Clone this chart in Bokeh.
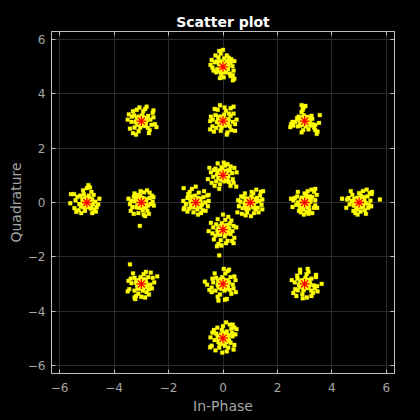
from bokeh.plotting import figure
from bokeh.models import Range1d, LinearAxis, FixedTicker, ColumnDataSource, CustomJSTickFormatter, GlobalInlineStyleSheet
from bokeh.embed import file_html
from bokeh.resources import INLINE

# Ideal constellation points (red asterisks)
ref_i = [0, 0, 1, -1, 0, 0, 3, -3, 3, -3, 3, -3, 0, 0, 5, -5]
ref_q = [1, -1, 0, 0, 3, -3, 0, 0, 3, 3, -3, -3, 5, -5, 0, 0]

# Received samples: offsets from each ideal point,
# in units of 1/72
NOISE_UNIT = 72.0
off_0_1 = [(0,0),(5,-6),(-7,6),(10,10),(-12,-8),(14,-2),(-16,2),(-2,16),(4,-16),(18,14),(-20,18),(16,-18),(-18,-16),(24,6),(-26,-4),(6,26),(-8,-24),(26,-10),(-24,14),(12,30),(-14,32),(30,20),(-30,-20),(2,34),(20,-28),(-32,8),(-40,-10),(35,-30),(-10,-36),(8,8),(-6,-6),(12,-10),(-12,10),(2,-8),(-4,22),(20,24),(-22,-28),(28,-20),(36,8),(-36,20),
           (3,12),(-11,-3),(9,-13),(-5,-12),(13,13),(-13,7),(0,-4),(7,1),(-3,4),(11,-6),(-9,13),(1,9)]
off_0_m1 = [(0,0),(-6,5),(8,-7),(-10,-12),(12,9),(-15,-2),(16,3),(-3,17),(5,-18),(-18,14),(20,-12),(-20,-16),(18,16),(25,-4),(-26,6),(6,26),(-6,-28),(28,10),(-28,-10),(12,-30),(-14,28),(30,-22),(-32,18),(14,34),(-12,-38),(35,6),(-38,-4),(-16,-44),(28,-36),(24,-30),(-10,-68),(-4,-42),(4,8),(-8,-4),(10,-4),(-4,-10),(22,24),(-24,-26),(0,40),(8,-36),
            (-2,11),(12,-2),(-12,4),(6,-12),(-8,-14),(2,2),(-4,-6),(9,12),(-13,-8),(14,-9),(5,6),(-7,9)]
off_1_0 = [(0,0),(6,5),(-8,-6),(10,-10),(-12,8),(15,2),(-15,-2),(3,16),(-4,-16),(18,12),(-18,14),(20,-14),(-20,-15),(24,4),(-26,2),(8,24),(-8,-26),(26,18),(-14,24),(10,-28),(30,-6),(-30,-10),(28,28),(16,34),(-22,-30),(34,30),(32,-18),(-34,-26),(2,-36),(-6,8),(12,6),(-2,-10),(14,-18),(-10,-18),(4,28),(-24,16),(22,-26),(-32,6),(32,8),(-12,-34),
           (4,11),(-11,2),(10,-3),(-6,-11),(1,-6),(-2,5),(13,9),(-13,-9),(8,-13),(-9,11),(6,-2),(-4,-2)]
off_m1_0 = [(0,0),(-5,7),(7,-5),(-10,-10),(12,10),(-14,2),(16,-6),(-2,18),(4,-18),(-18,-16),(20,14),(-22,12),(18,-20),(25,0),(-26,-4),(8,26),(-6,-26),(-30,-14),(30,18),(14,-28),(-16,28),(32,-10),(-33,4),(22,30),(-10,36),(-32,38),(0,42),(34,20),(-2,-12),(10,4),(-8,-2),(12,-12),(-12,16),(4,10),(26,-22),(-22,-24),(-32,-18),(6,-32),(34,4),(-20,22),
            (-3,-5),(9,-11),(-12,6),(5,12),(13,-1),(-8,-13),(0,7),(-6,3),(11,7),(2,-9),(-13,-6),(7,2)]
off_0_3 = [(0,0),(6,6),(-8,-5),(10,-10),(-12,10),(15,3),(-16,-3),(3,17),(-4,-17),(18,-14),(-20,16),(20,14),(-18,-18),(26,-2),(-27,4),(8,27),(-6,-26),(28,20),(-28,-14),(12,-30),(-14,30),(32,-8),(-32,12),(4,36),(20,34),(-22,32),(28,38),(-8,42),(32,-26),(-34,-22),(10,-36),(2,6),(-6,2),(12,-2),(-2,-10),(22,-24),(-24,-28),(16,20),(-34,0),(36,4),
           (-1,12),(11,5),(-10,-10),(5,-12),(-13,3),(8,-5),(-4,7),(1,-4),(13,-9),(-7,-2),(4,2),(-11,12)]
off_0_m3 = [(0,0),(-5,6),(7,-6),(-10,-10),(12,10),(-14,-2),(16,4),(-2,18),(4,-18),(-18,16),(18,-16),(-20,-18),(20,18),(26,-2),(-26,4),(6,28),(-8,-28),(28,-12),(-28,14),(12,34),(-14,-34),(30,20),(-30,-22),(2,40),(10,-40),(-12,-44),(5,-42),(-30,-10),(-36,-16),(-48,6),(-42,-2),(34,-22),(33,10),(8,4),(-6,-4),(12,-4),(-4,10),(22,-26),(-22,28),(16,38),
            (3,-11),(-12,-6),(10,8),(-6,12),(13,-8),(-2,-4),(6,-1),(-9,4),(1,12),(-13,9),(9,-13),(-5,-13)]
off_3_0 = [(0,0),(6,-6),(-8,8),(10,12),(-12,-10),(15,2),(-18,0),(4,20),(-4,-18),(20,14),(12,-20),(-20,16),(25,28),(28,6),(-22,-6),(8,30),(-10,-26),(24,-14),(-26,12),(18,34),(32,20),(-15,-22),(0,24),(9,-12),(-6,12),(16,6),(-14,-2),(28,-8),(-30,6),(-36,10),(33,-14),(10,-30),(-2,-32),(20,-28),(-18,28),(14,16),(-3,6),(5,-25),(28,36),(-32,-12),
           (-5,-4),(11,-8),(-10,5),(2,12),(7,-13),(-12,-13),(12,9),(-2,-10),(4,4),(-8,13),(9,1),(-4,1)]
off_m3_0 = [(0,0),(-7,5),(9,-5),(-11,-11),(13,9),(-17,3),(18,-8),(-3,19),(4,-21),(-20,15),(22,12),(-24,-12),(16,-22),(25,-4),(-27,4),(7,27),(-8,-28),(-30,-4),(28,18),(20,-30),(-18,24),(30,2),(0,-15),(10,5),(-5,-6),(12,-12),(-14,12),(3,12),(-10,20),(33,-8),(-34,10),(15,32),(-4,-62),(10,-36),(-28,-22),(22,26),(-2,30),(6,-32),(-20,-30),(32,14),
            (2,-7),(-10,-4),(11,-2),(-4,10),(6,10),(-13,-13),(13,5),(-1,3),(8,-13),(-8,7),(4,-2),(-6,-14)]
off_3_3 = [(0,0),(5,-5),(-6,6),(9,8),(-10,-8),(12,-2),(-14,2),(-2,15),(3,-14),(15,-12),(-16,12),(-8,24),(-5,30),(-3,36),(-8,42),(2,40),(-18,-14),(20,6),(-25,-2),(-30,-12),(-36,-8),(-38,-16),(25,-18),(28,-24),(34,-28),(32,-34),(10,-22),(-4,-24),(-8,-30),(18,14),(38,-5),(40,16),(20,-8),(-20,8),(6,6),(-4,-4),(10,2),(-12,-4),(28,-10),(-32,-2),
           (2,4),(-7,10),(8,-8),(-12,-12),(4,-6),(-3,-10),(11,5),(-9,-1),(0,9),(13,-4),(-5,2),(7,11)]
off_m3_3 = [(0,0),(6,5),(-7,-6),(10,-9),(-12,9),(14,2),(-15,-3),(2,16),(-3,-17),(18,14),(-19,15),(17,-18),(-18,-17),(24,4),(-26,-2),(5,26),(-7,-27),(27,-10),(-25,12),(10,32),(-12,30),(30,22),(-30,-20),(20,-32),(-22,-32),(32,28),(36,-8),(40,-16),(-36,4),(-33,18),(14,38),(-5,36),(8,8),(-6,-4),(12,-4),(-4,10),(22,-24),(-22,26),(32,10),(-14,-36),
            (-4,3),(9,-4),(-11,-10),(4,12),(13,7),(-7,12),(1,-8),(-13,-1),(7,-13),(-2,-2),(11,-12),(3,4)]
off_3_m3 = [(0,0),(5,6),(-7,-5),(10,-10),(-12,9),(14,2),(-15,-2),(2,16),(-3,-17),(18,14),(-19,14),(17,-18),(-18,-17),(24,-4),(-26,4),(5,26),(-6,-27),(27,-12),(-25,-14),(10,32),(-12,30),(30,18),(-30,-24),(18,-32),(-22,-32),(-12,38),(8,40),(45,0),(34,-20),(-34,10),(33,-6),(6,-36),(-5,-38),(6,4),(-4,-8),(12,6),(-8,8),(22,-24),(-20,22),(30,24),
            (2,-2),(-10,5),(9,-6),(-4,10),(12,11),(-13,-8),(5,-11),(-7,-1),(0,8),(8,3),(-3,-13),(13,-3)]
off_m3_m3 = [(0,0),(-6,5),(8,-6),(-10,-10),(12,10),(-14,3),(16,-4),(-2,18),(4,-18),(-18,16),(20,-14),(-18,-18),(18,18),(24,-2),(-26,2),(6,26),(-8,-26),(28,-12),(-28,14),(12,32),(-14,-32),(30,16),(-32,-14),(-18,-36),(-16,-40),(10,-36),(-36,-20),(-30,52),(42,20),(25,30),(-6,-4),(8,6),(-2,10),(4,-10),(-22,28),(20,-28),(-34,8),(34,4),(0,-34),(14,-22),
             (2,3),(-11,-4),(10,-9),(-5,11),(7,13),(-2,-12),(13,1),(-8,-13),(4,-5),(-13,9),(0,-2),(8,6)]
off_0_5 = [(0,0),(5,8),(-8,4),(12,-3),(-15,-6),(20,10),(-22,12),(8,-15),(-5,-20),(18,-18),(25,2),(-28,-2),(3,22),(-12,25),(15,24),(-20,30),(-30,18),(28,-10),(-18,-15),(10,30),(-6,35),(-10,42),(0,45),(-25,-10),(22,20),(30,15),(-2,12),(7,-7),(-10,-8),(14,6),(-16,14),(2,-28),(20,-25),(30,-32),(26,-36),(-33,5),(-8,-30),(12,14),(-4,-12),(26,-22),
           (-3,3),(9,-2),(-11,8),(4,-10),(-6,-4),(12,12),(-13,-12),(1,6),(7,-12),(-2,-15),(13,-6),(-8,15)]
off_0_m5 = [(0,0),(-6,5),(8,-4),(-12,-10),(15,8),(-18,12),(10,18),(-3,22),(20,-12),(-22,-5),(5,-20),(-10,-25),(25,5),(-28,15),(14,-25),(22,25),(30,-18),(-15,28),(0,32),(18,36),(-30,-20),(-33,2),(33,10),(10,-35),(-20,-32),(28,-30),(6,12),(-8,-8),(12,2),(-4,-15),(16,-6),(-14,4),(24,14),(-24,22),(30,28),(36,24),(-34,-24),(8,42),(-2,-38),(26,36),
            (3,3),(-11,-2),(9,-10),(-5,10),(12,8),(-2,-8),(6,-3),(-9,-14),(1,14),(-13,5),(13,-2),(-6,1)]
off_5_0 = [(0,0),(7,-5),(-9,6),(12,10),(-14,-8),(18,-2),(-20,4),(5,18),(-5,-18),(22,16),(15,-20),(-18,20),(28,25),(30,5),(-25,-5),(10,30),(-10,-28),(24,-14),(-28,12),(20,34),(33,22),(-15,-22),(0,25),(8,-10),(-6,10),(14,4),(-12,-2),(26,-6),(-32,8),(-45,10),(55,8),(34,28),(-4,-32),(18,-30),(-22,30),(12,14),(-2,6),(4,-24),(32,-10),(-34,-14),
           (2,3),(-10,-3),(11,-9),(-4,13),(8,6),(-13,10),(5,-13),(-7,-12),(13,2),(-1,-6),(1,10),(-5,3)]
off_m5_0 = [(0,0),(-6,4),(8,-6),(-12,10),(14,8),(-16,-10),(10,-16),(-20,-4),(22,2),(5,18),(-8,22),(-25,15),(20,-18),(-5,-22),(26,-12),(30,-5),(-22,-20),(12,28),(0,38),(-10,32),(18,20),(-30,6),(-33,-15),(4,46),(8,40),(-34,22),(-42,22),(-44,-2),(-15,-28),(33,10),(-3,12),(6,6),(-10,-5),(16,-4),(-18,18),(24,-24),(14,-28),(-28,-25),(10,-10),(2,-12),
            (3,-3),(-11,2),(10,11),(-4,-11),(7,2),(-13,-7),(1,12),(-7,7),(12,-8),(-2,4),(5,-9),(-9,-13)]

clusters = [off_0_1, off_0_m1, off_1_0, off_m1_0, off_0_3, off_0_m3, off_3_0, off_m3_0,
            off_3_3, off_m3_3, off_3_m3, off_m3_m3, off_0_5, off_0_m5, off_5_0, off_m5_0]

rx_i, rx_q = [], []
for ci, cq, offs in zip(ref_i, ref_q, clusters):
    for dx, dy in offs:
        rx_i.append(ci + dx / NOISE_UNIT)
        rx_q.append(cq + dy / NOISE_UNIT)

ticks = [-6, -4, -2, 0, 2, 4, 6]

page_bg = GlobalInlineStyleSheet(css="html, body { background: #000000; }")

p = figure(width=420, height=420, output_backend="svg", toolbar_location=None,
           x_range=Range1d(-6.3, 6.3), y_range=Range1d(-6.3, 6.3),
           background_fill_color="black", border_fill_color="black",
           min_border_left=51, min_border_right=26, min_border_top=31, min_border_bottom=47,
           title="Scatter plot", stylesheets=[page_bg])

p.title.align = "center"
p.title.text_color = "white"
p.title.text_font = "DejaVu Sans"
p.title.text_font_size = "14px"
p.title.text_font_style = "bold"
p.title.offset = 0
p.title.standoff = 4

p.outline_line_color = "#bfbfbf"
p.outline_line_width = 1

for ax in (p.xaxis[0], p.yaxis[0]):
    ax.ticker = FixedTicker(ticks=ticks)
    ax.axis_line_color = "#bfbfbf"
    ax.major_tick_line_color = "#bfbfbf"
    ax.major_tick_in = 4
    ax.major_tick_out = 0
    ax.minor_tick_line_color = None
    ax.major_label_text_color = "#a6a6a6"
    ax.major_label_text_font = "DejaVu Sans"
    ax.major_label_text_font_size = "12px"
    ax.axis_label_text_color = "#a6a6a6"
    ax.axis_label_text_font = "DejaVu Sans"
    ax.axis_label_text_font_size = "14px"
    ax.axis_label_text_font_style = "normal"

p.xaxis.axis_label = "In-Phase"
p.yaxis.axis_label = "Quadrature"
p.xaxis.axis_label_standoff = 3
p.yaxis.axis_label_standoff = 1
p.xaxis.major_label_standoff = 9
p.yaxis.major_label_standoff = 6

blank = CustomJSTickFormatter(code="return ''")
for loc in ("right", "above"):
    ax = LinearAxis(ticker=FixedTicker(ticks=ticks), formatter=blank,
                    major_label_text_font_size="1px",
                    axis_line_color="#bfbfbf", major_tick_line_color="#bfbfbf",
                    major_tick_in=4, major_tick_out=0, minor_tick_line_color=None,
                    major_label_standoff=0)
    p.add_layout(ax, loc)

p.xgrid.ticker = FixedTicker(ticks=ticks)
p.ygrid.ticker = FixedTicker(ticks=ticks)
p.grid.grid_line_color = "#2b2b2b"
p.grid.grid_line_width = 1

src = ColumnDataSource(dict(x=rx_i, y=rx_q))
p.scatter("x", "y", source=src, marker="square", size=3.8, fill_color="#ffff00",
          line_color="#ffff00", line_width=0.3)

p.scatter(ref_i, ref_q, marker="asterisk", size=10, line_color="#ff0000", line_width=1.3)

open("out.html", "w").write(file_html(p, INLINE))
